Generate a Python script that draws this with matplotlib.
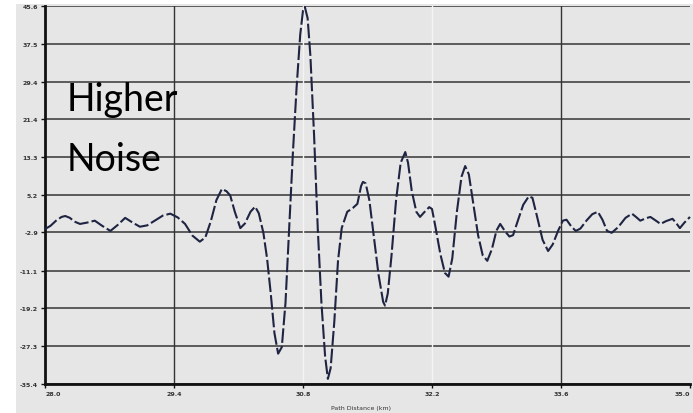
import matplotlib
matplotlib.use("Agg")
import matplotlib.pyplot as plt
from matplotlib.patches import Rectangle

# Data
distance = [28.00, 28.06, 28.12, 28.18, 28.22, 28.27, 28.32, 28.38, 28.46, 28.54,
            28.62, 28.71, 28.79, 28.87, 28.95, 29.03, 29.11, 29.19, 29.28, 29.36,
            29.44, 29.52, 29.60, 29.68, 29.74, 29.80, 29.86, 29.92, 29.97, 30.01,
            30.06, 30.12, 30.17, 30.23, 30.28, 30.32, 30.37, 30.41, 30.45, 30.49,
            30.53, 30.57, 30.61, 30.65, 30.69, 30.73, 30.77, 30.80, 30.82, 30.85,
            30.88, 30.92, 30.96, 31.00, 31.04, 31.07, 31.10, 31.14, 31.18, 31.22,
            31.28, 31.34, 31.39, 31.43, 31.45, 31.48, 31.52, 31.57, 31.62, 31.67,
            31.69, 31.72, 31.76, 31.81, 31.86, 31.91, 31.94, 31.98, 32.03, 32.07,
            32.12, 32.17, 32.20, 32.24, 32.29, 32.34, 32.38, 32.42, 32.47, 32.52,
            32.56, 32.60, 32.65, 32.70, 32.75, 32.80, 32.85, 32.90, 32.94, 32.99,
            33.04, 33.08, 33.13, 33.19, 33.25, 33.29, 33.34, 33.40, 33.46, 33.51,
            33.57, 33.62, 33.66, 33.71, 33.76, 33.81, 33.88, 33.94, 34.00, 34.05,
            34.10, 34.15, 34.22, 34.30, 34.37, 34.42, 34.46, 34.52, 34.57, 34.63,
            34.68, 34.74, 34.81, 34.85, 34.89, 34.94, 35.00]
amplitude = [-2.2, -1.5, -0.4, 0.4, 0.6, 0.2, -0.6, -1.1, -0.8, -0.4,
             -1.5, -2.6, -1.3, 0.2, -0.8, -1.7, -1.4, -0.4, 0.7, 1.1,
             0.3, -1.1, -3.6, -4.9, -4.0, -0.5, 4.0, 6.4, 5.9, 5.0,
             1.5, -2.0, -1.0, 1.5, 2.6, 1.2, -3.0, -8.5, -16.0, -24.5,
             -28.9, -27.5, -18.0, -2.0, 14.0, 28.0, 39.5, 44.6, 45.4, 43.0,
             35.0, 18.0, -2.0, -18.0, -29.5, -34.3, -32.0, -22.0, -9.0, -2.0,
             1.5, 2.3, 3.2, 7.0, 7.9, 7.6, 4.0, -4.0, -12.0, -17.8,
             -18.6, -16.0, -8.0, 4.0, 12.0, 14.3, 12.0, 6.0, 1.5, 0.4,
             1.5, 2.5, 2.1, -2.0, -7.5, -11.6, -12.4, -8.5, 1.5, 9.0,
             11.3, 9.5, 3.0, -3.5, -7.8, -9.0, -6.5, -2.5, -1.1, -2.6,
             -3.8, -3.5, -0.5, 3.0, 4.8, 4.5, 0.5, -4.5, -6.9, -5.5,
             -2.5, -0.4, -0.2, -1.6, -2.6, -2.1, -0.3, 1.0, 1.5, -0.2,
             -2.6, -3.0, -1.8, 0.2, 1.1, 0.3, -0.4, 0.1, 0.4, -0.4,
             -1.1, -0.5, 0.0, -0.9, -2.0, -0.8, 0.4]

x_ticks = [28.0, 29.4, 30.8, 32.2, 33.6, 35.0]
x_tick_labels = ["28.0", "29.4", "30.8", "32.2", "33.6", "35.0"]
y_ticks = [45.6, 37.5, 29.4, 21.4, 13.3, 5.2, -2.9, -11.1, -19.2, -27.3, -35.4]
y_tick_labels = ["45.6", "37.5", "29.4", "21.4", "13.3", "5.2", "-2.9", "-11.1", "-19.2", "-27.3", "-35.4"]
dark_vlines = [29.4, 33.6]
faint_vlines = [30.8, 32.2]

bg = "#e6e6e6"
fig = plt.figure(figsize=(6.93, 4.14), dpi=100, facecolor=bg)
# white margins at left and top
fig.patches.append(Rectangle((0, 0), 16 / 693, 1, transform=fig.transFigure,
                             facecolor="white", edgecolor="none", zorder=0))
fig.patches.append(Rectangle((0, 1 - 5 / 414), 1, 5 / 414, transform=fig.transFigure,
                             facecolor="white", edgecolor="none", zorder=0))

ax = fig.add_axes([45 / 693, 1 - 385 / 414, 645 / 693, 378 / 414])
ax.set_facecolor(bg)
ax.set_xlim(28.0, 35.0)
ax.set_ylim(-35.4, 45.6)

for yv in y_ticks:
    ax.axhline(yv, color="#505050", lw=1.3, zorder=1)
for xv in dark_vlines:
    ax.axvline(xv, color="#333333", lw=1.0, zorder=1)
for xv in faint_vlines:
    ax.axvline(xv, color="#f4f4f4", lw=1.0, zorder=1)

ax.plot(distance, amplitude, color="#1e2442", lw=1.5,
        linestyle=(0, (7, 1.5)), zorder=3, clip_on=False)

ax.set_xticks(x_ticks)
ax.set_xticklabels(x_tick_labels)
ax.set_yticks(y_ticks)
ax.set_yticklabels(y_tick_labels)
ax.tick_params(axis="both", labelsize=4.5, labelcolor="#333333", length=3,
               width=1, color="#111111", pad=2)
for lab in ax.get_xticklabels() + ax.get_yticklabels():
    lab.set_fontweight("bold")
xl = ax.get_xticklabels()
xl[0].set_horizontalalignment("left")
xl[-1].set_horizontalalignment("right")

for s in ["top", "right"]:
    ax.spines[s].set_visible(False)
for s in ["left", "bottom"]:
    ax.spines[s].set_linewidth(2)
    ax.spines[s].set_color("#111111")

ax.set_xlabel("Path Distance (km)", fontsize=4.5, color="#333333", labelpad=2)
ax.xaxis.set_label_coords(0.49, -0.055)
ax.set_ylabel("Height", fontsize=4.5, color="#333333", labelpad=2)
ax.yaxis.set_label_coords(-0.057, 0.48)

fig.text(67 / 693, 1 - 100 / 414, "Higher", fontsize=27, family="Lato",
         va="center", ha="left", color="black")
fig.text(67 / 693, 1 - 160 / 414, "Noise", fontsize=27, family="Lato",
         va="center", ha="left", color="black")

fig.savefig("out.png", dpi=100, facecolor=bg)
